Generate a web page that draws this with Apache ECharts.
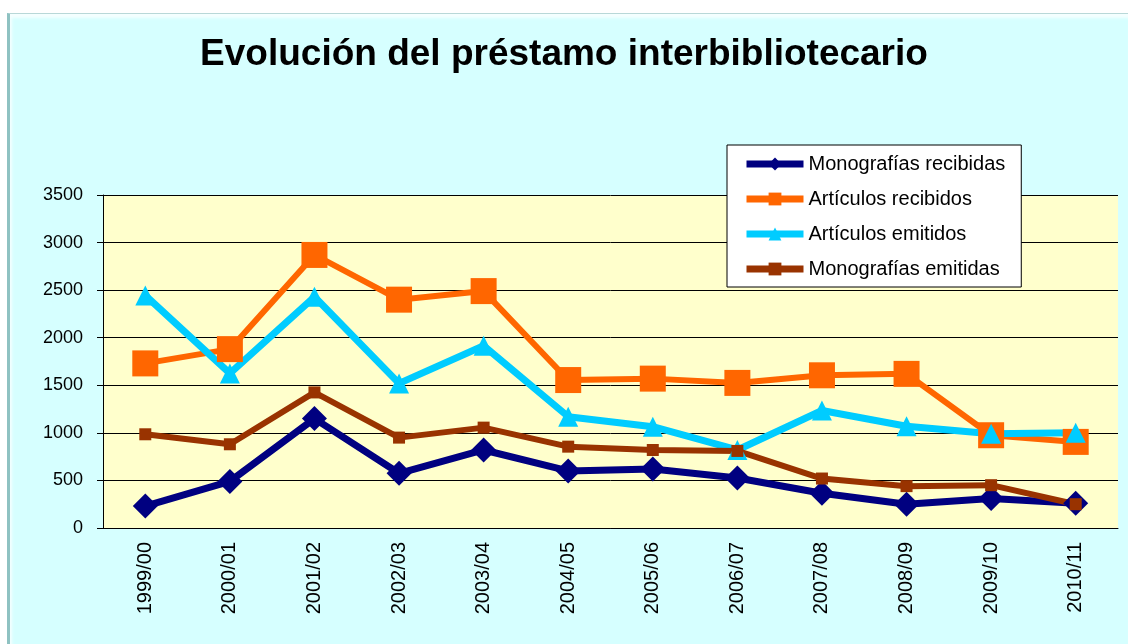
<!DOCTYPE html>
<html>
<head>
<meta charset="utf-8">
<title>Evolución del préstamo interbibliotecario</title>
<script src="https://cdn.jsdelivr.net/npm/echarts@6/dist/echarts.min.js"></script>
<style>
    html, body { margin: 0; padding: 0; background: #ffffff; }
    #frame {
        position: absolute; left: 7px; top: 13px; width: 1121px; height: 631px;
        background: #d6ffff;
        border-top: 1px solid #b8d8d8;
        border-left: 3px solid #8fc2c2;
        box-shadow: inset 2px 4px 3px #f4ffff;
        box-sizing: border-box;
    }
    #container { position: absolute; left: 0; top: 0; width: 1128px; height: 644px; }
</style>
</head>
<body>
<div id="frame"></div>
<div id="container"></div>
<script>
// curso académico
var categories = ['1999/00', '2000/01', '2001/02', '2002/03', '2003/04', '2004/05',
    '2005/06', '2006/07', '2007/08', '2008/09', '2009/10', '2010/11'];
// valores
var monografiasRecibidas = [230, 490, 1150, 575, 820, 600, 620, 525, 365, 250, 310, 260];
var articulosRecibidos = [1730, 1880, 2870, 2400, 2490, 1555, 1570, 1525, 1605, 1620, 975, 905];
var articulosEmitidos = [2445, 1625, 2430, 1520, 1915, 1170, 1065, 820, 1235, 1070, 990, 1000];
var monografiasEmitidas = [985, 880, 1425, 950, 1055, 855, 820, 810, 520, 440, 450, 250];
var yTicks = [0, 500, 1000, 1500, 2000, 2500, 3000, 3500];

var fontName = "'Liberation Sans', Arial, sans-serif";

var myChart = echarts.init(document.getElementById("container"));
var option = null;
option = {
    backgroundColor: 'transparent',
    animation: false,
    title: {
        text: 'Evolución del préstamo interbibliotecario',
        left: 'center',
        top: 31,
        textStyle: {
            fontFamily: fontName,
            fontSize: 37,
            fontWeight: 'bold',
            color: '#000000'
        }
    },
    legend: {
        orient: 'vertical',
        left: 727,
        top: 145,
        padding: [9, 16, 8, 16],
        itemGap: 15,
        itemWidth: 57,
        itemHeight: 16,
        backgroundColor: '#ffffff',
        borderColor: '#000000',
        borderWidth: 1,
        lineStyle: { width: 7 },
        textStyle: {
            fontFamily: fontName,
            fontSize: 20,
            color: '#000000'
        },
        data: ['Monografías recibidas', 'Artículos recibidos', 'Artículos emitidos', 'Monografías emitidas']
    },
    grid: {
        left: 103,
        right: 10,
        top: 195,
        bottom: 116,
        show: true,
        backgroundColor: '#ffffcc',
        borderWidth: 0
    },
    xAxis: {
        type: 'category',
        data: categories,
        boundaryGap: true,
        axisLine: { lineStyle: { color: '#000000', width: 1 } },
        axisTick: { inside: true, length: 6, lineStyle: { color: '#000000' } },
        axisLabel: {
            rotate: 90,
            margin: 14,
            fontFamily: fontName,
            fontSize: 20,
            color: '#000000'
        }
    },
    yAxis: {
        type: 'value',
        min: yTicks[0],
        max: yTicks[yTicks.length - 1],
        interval: 500,
        axisLine: { show: true, lineStyle: { color: '#000000', width: 1 } },
        axisTick: { show: true, length: 6, lineStyle: { color: '#000000' } },
        splitLine: { show: true, lineStyle: { color: '#000000', width: 1 } },
        axisLabel: {
            margin: 20,
            fontFamily: fontName,
            fontSize: 18,
            color: '#000000',
            formatter: function (value) {
                return String(value);
            }
        }
    },
    series: [
        {
            name: 'Monografías recibidas',
            type: 'line',
            data: monografiasRecibidas,
            symbol: 'diamond',
            symbolSize: 25,
            lineStyle: { color: '#000080', width: 7 },
            itemStyle: { color: '#000080' }
        },
        {
            name: 'Artículos recibidos',
            type: 'line',
            data: articulosRecibidos,
            symbol: 'rect',
            symbolSize: 26,
            lineStyle: { color: '#ff6600', width: 6 },
            itemStyle: { color: '#ff6600' }
        },
        {
            name: 'Artículos emitidos',
            type: 'line',
            data: articulosEmitidos,
            symbol: 'triangle',
            symbolSize: 20,
            lineStyle: { color: '#00ccff', width: 7 },
            itemStyle: { color: '#00ccff' }
        },
        {
            name: 'Monografías emitidas',
            type: 'line',
            data: monografiasEmitidas,
            symbol: 'rect',
            symbolSize: 12,
            lineStyle: { color: '#993300', width: 6 },
            itemStyle: { color: '#993300' }
        }
    ]
};
if (option && typeof option === "object") {
    myChart.setOption(option, true);
}
</script>
</body>
</html>
